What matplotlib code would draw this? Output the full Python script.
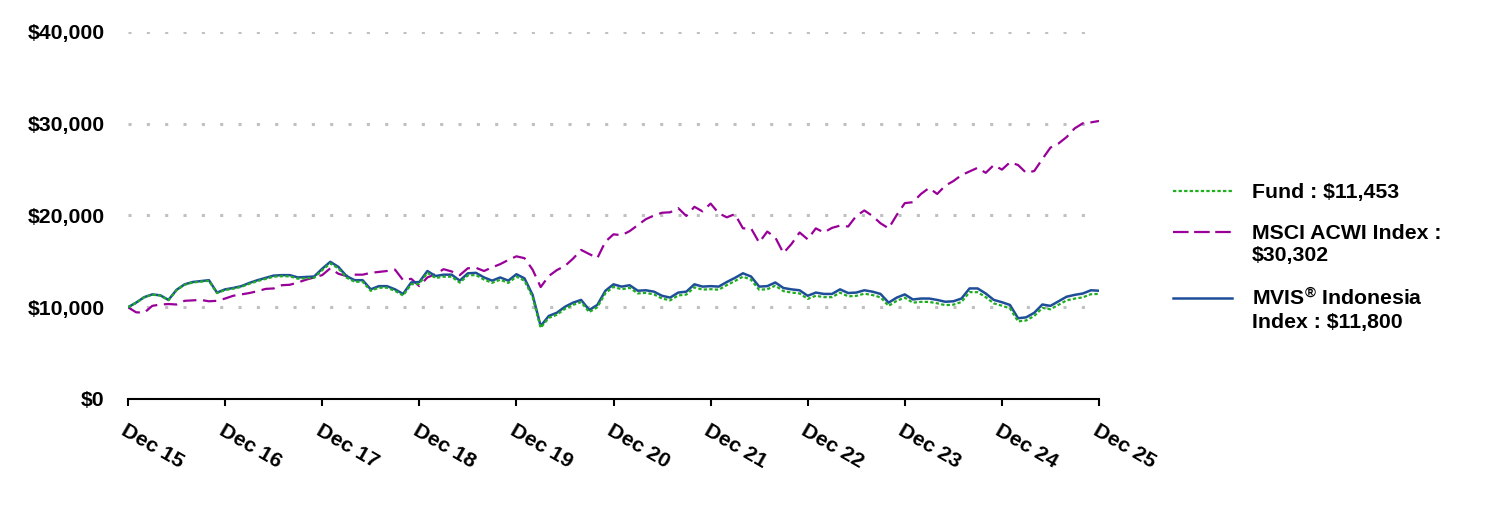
import numpy as np
import matplotlib
matplotlib.use("Agg")
import matplotlib.pyplot as plt
from matplotlib.lines import Line2D

plt.rcParams['font.family'] = ['Liberation Sans', 'DejaVu Sans']
plt.rcParams['font.weight'] = 'bold'
plt.rcParams['mathtext.fontset'] = 'custom'
plt.rcParams['mathtext.rm'] = 'Liberation Sans:bold'
plt.rcParams['mathtext.default'] = 'rm'

# monthly growth of $10,000, Dec 15 .. Dec 25
mvis = [10000, 10500, 11100, 11400, 11300, 10800, 11900, 12500, 12750, 12850,
        12950, 11600, 11950, 12100, 12300, 12650, 12950, 13200, 13450, 13500,
        13500, 13250, 13300, 13350, 14200, 14950, 14400, 13400, 12950, 12950,
        11950, 12300, 12300, 11950, 11450, 12700, 12750, 13950, 13400, 13550,
        13550, 12900, 13700, 13750, 13250, 12900, 13250, 12900, 13600, 13150,
        11350, 7950, 9050, 9400, 10050, 10500, 10800, 9700, 10250, 11800,
        12500, 12250, 12400, 11800, 11850, 11700, 11250, 11050, 11600, 11700,
        12500, 12250, 12300, 12250, 12750, 13200, 13700, 13350, 12250, 12300,
        12700, 12100, 11950, 11850, 11250, 11600, 11450, 11450, 11950, 11550,
        11600, 11850, 11700, 11450, 10500, 11050, 11400, 10850, 10950, 10950,
        10800, 10600, 10650, 10950, 12050, 12050, 11500, 10800, 10550, 10250,
        8800, 8900, 9400, 10300, 10150, 10650, 11150, 11350, 11500, 11850,
        11800]

fund = [10000, 10480, 11080, 11370, 11270, 10770, 11860, 12450, 12700, 12790,
        12880, 11540, 11880, 12020, 12220, 12560, 12850, 13090, 13330, 13380,
        13370, 13110, 13160, 13200, 14040, 14780, 14230, 13230, 12780, 12780,
        11790, 12130, 12130, 11780, 11280, 12510, 12560, 13740, 13190, 13330,
        13320, 12680, 13470, 13510, 13010, 12660, 13000, 12650, 13340, 12890,
        11110, 7760, 8840, 9180, 9820, 10260, 10550, 9470, 10000, 11530,
        12220, 11960, 12110, 11510, 11560, 11400, 10950, 10750, 11290, 11380,
        12170, 11920, 11970, 11910, 12410, 12850, 13340, 12990, 11910, 11960,
        12350, 11760, 11600, 11500, 10910, 11250, 11100, 11100, 11590, 11190,
        11240, 11480, 11330, 11080, 10150, 10700, 11040, 10500, 10590, 10580,
        10430, 10230, 10280, 10570, 11650, 11640, 11100, 10420, 10170, 9870,
        8460, 8560, 9050, 9930, 9780, 10270, 10750, 10940, 11080, 11420,
        11453]

msci = [10000, 9450, 9400, 10150, 10300, 10350, 10300, 10700, 10750, 10800,
        10650, 10700, 10950, 11250, 11400, 11550, 11750, 12000, 12050, 12400,
        12450, 12700, 13000, 13250, 13500, 14250, 13650, 13400, 13550, 13550,
        13750, 13850, 13950, 14100, 12950, 13100, 12300, 13250, 13600, 14150,
        13900, 13500, 14250, 14300, 13950, 14350, 14700, 15150, 15550, 15350,
        14100, 12200, 13400, 14050, 14500, 15300, 16250, 15800, 15350, 17150,
        17950, 17850, 18300, 18950, 19600, 20000, 20300, 20350, 20800, 19950,
        20950, 20450, 21300, 20250, 19800, 20150, 18600, 18600, 17050, 18250,
        17600, 15900, 16900, 18150, 17400, 18600, 18150, 18650, 18900, 18800,
        19950, 20550, 19950, 19150, 18600, 20050, 21350, 21450, 22350, 23000,
        22350, 23250, 23750, 24400, 24800, 25200, 24650, 25500, 25000, 25800,
        25500, 24650, 24850, 26150, 27400, 27850, 28550, 29500, 30050, 30150,
        30302]

year_labels = ['Dec 15', 'Dec 16', 'Dec 17', 'Dec 18', 'Dec 19', 'Dec 20',
               'Dec 21', 'Dec 22', 'Dec 23', 'Dec 24', 'Dec 25']
y_ticks = [0, 10000, 20000, 30000, 40000]
y_labels = ['$0', '$10,000', '$20,000', '$30,000', '$40,000']

green = '#1fae1f'
purple = '#990099'
blue = '#1f4e99'
fs = 15.3

W, H = 1488, 516
fig = plt.figure(figsize=(W / 100, H / 100), dpi=100)
ax = fig.add_axes([128 / W, 117 / H, 971 / W, 367 / H])

months = np.arange(len(mvis))
ax.plot(months, msci, color=purple, lw=1.6, linestyle=(0, (6, 3)))
ax.plot(months, mvis, color=blue, lw=1.8)
ax.plot(months, fund, color=green, lw=1.6, linestyle=(0, (1.5, 1)))

ax.set_xlim(0, 120)
ax.set_ylim(0, 40000)
ax.set_yticks(y_ticks)
ax.set_yticklabels(y_labels)
ax.set_xticks(np.arange(0, 121, 12))
ax.set_xticklabels(year_labels, rotation=-30, ha='left', va='top',
                   rotation_mode='anchor')

ax.yaxis.grid(True, color='#c0c0c0', linestyle=(0, (1, 5)), linewidth=2.2)
ax.set_axisbelow(True)
for s in ['left', 'right', 'top']:
    ax.spines[s].set_visible(False)
ax.spines['bottom'].set_linewidth(1.5)
ax.tick_params(axis='y', length=0, pad=17, labelsize=fs)
ax.tick_params(axis='x', length=5, width=1.5, pad=11, labelsize=fs)

# legend drawn by hand so handles line up with the first text row
def fx(px):
    return px / W

def fy(py):
    return 1 - py / H

entries = [
    (191, dict(color=green, lw=1.6, linestyle=(0, (1.5, 1))),
     [(198, 'Fund : $11,453')]),
    (232, dict(color=purple, lw=1.6, linestyle=(0, (7, 2.5))),
     [(239, 'MSCI ACWI Index :'), (261, '$30,302')]),
    (298, dict(color=blue, lw=1.8),
     [(306, r'MVIS$^{®}$ Indonesia'), (328, 'Index : $11,800')]),
]
for ly, style, lines in entries:
    fig.add_artist(Line2D([fx(1173), fx(1232)], [fy(ly), fy(ly)], **style))
    for by, txt in lines:
        fig.text(fx(1252), fy(by), txt, fontsize=fs, va='baseline', ha='left')

fig.savefig('out.png', dpi=100)
